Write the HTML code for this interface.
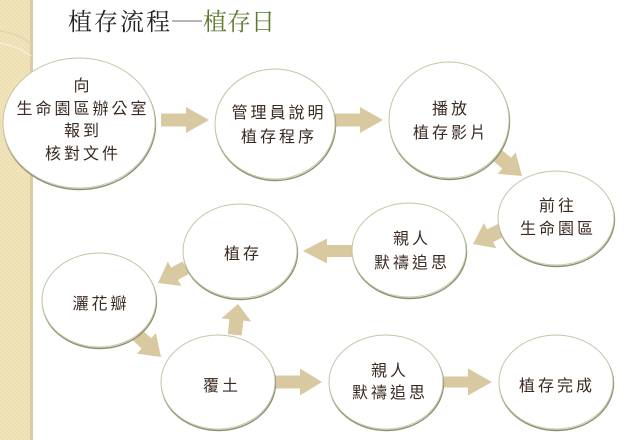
<!DOCTYPE html>
<html><head><meta charset="utf-8"><style>
html,body{margin:0;padding:0;background:#fff;}
svg{display:block;}
</style></head><body>
<svg width="640" height="440" viewBox="0 0 640 440" xmlns="http://www.w3.org/2000/svg">
<defs>
<pattern id="chk" width="4" height="4" patternUnits="userSpaceOnUse">
<rect width="4" height="4" fill="#f1e3bb"/>
<rect width="2" height="2" fill="#eedfb3"/>
<rect x="2" y="2" width="2" height="2" fill="#eedfb3"/>
</pattern>
</defs>
<rect x="0" y="0" width="640" height="440" fill="#ffffff"/>
<rect x="0" y="0" width="31" height="440" fill="url(#chk)"/>
<rect x="30" y="0" width="3" height="440" fill="#d9cda6"/>
<path d="M0,31 Q18,33 31,44" stroke="#e2d5b0" stroke-width="1.5" fill="none"/>
<path d="M0,43 Q18,46 31,56" stroke="#f7efd8" stroke-width="1.2" fill="none"/>

<g font-family="'Noto Serif CJK SC', 'Liberation Serif', serif" font-size="24">
<text x="68" y="30" fill="#222" letter-spacing="2">植存流程</text>
<line x1="172" y1="21" x2="202" y2="21" stroke="#8a8a8a" stroke-width="1.3"/>
<text x="203" y="30" fill="#5e7a2e" letter-spacing="0">植存日</text>
</g>

<g fill="#d9c9a1">
<polygon transform="translate(209,120)" points="-48,-6.5 -23,-6.5 -23,-13 0,0 -23,13 -23,6.5 -48,6.5"/>
<polygon transform="translate(383,120)" points="-48,-6.5 -23,-6.5 -23,-13 0,0 -23,13 -23,6.5 -48,6.5"/>
<polygon transform="translate(522,176) rotate(40)" points="-38,-7 -20,-7 -20,-14 0,0 -20,14 -20,7 -38,7"/>
<polygon transform="translate(473,244) rotate(154)" points="-34,-7 -19,-7 -19,-14 0,0 -19,14 -19,7 -34,7"/>
<polygon transform="translate(303,251)" points="49,-6 24,-6 24,-12.5 0,0 24,12.5 24,6 49,6"/>
<polygon transform="translate(158,283) rotate(151)" points="-32,-7 -19,-7 -19,-14 0,0 -19,14 -19,7 -32,7"/>
<polygon transform="translate(161,357) rotate(43)" points="-32,-7 -20,-7 -20,-14 0,0 -20,14 -20,7 -32,7"/>
<polygon transform="translate(238,304) rotate(-84)" points="-31,-7 -16,-7 -16,-15 0,0 -16,15 -16,7 -31,7"/>
<polygon transform="translate(322,382)" points="-47,-6.5 -22,-6.5 -22,-13.5 0,0 -22,13.5 -22,6.5 -47,6.5"/>
<polygon transform="translate(492,382)" points="-48,-5.5 -24,-5.5 -24,-13.5 0,0 -24,13.5 -24,5.5 -48,5.5"/>
</g>

<g fill="none" stroke="#8f9072" stroke-width="1.4">
<ellipse cx="79.5" cy="124.5" rx="76" ry="65"/>
<ellipse cx="275.5" cy="125.5" rx="60" ry="55"/>
<ellipse cx="449.5" cy="121.5" rx="60" ry="58"/>
<ellipse cx="556.5" cy="219.5" rx="58" ry="47"/>
<ellipse cx="409.5" cy="251.5" rx="57" ry="47"/>
<ellipse cx="240.5" cy="252.5" rx="57" ry="47"/>
<ellipse cx="99.5" cy="301.5" rx="57" ry="47"/>
<ellipse cx="218.5" cy="383.5" rx="57" ry="47"/>
<ellipse cx="386.5" cy="383.5" rx="57" ry="47"/>
<ellipse cx="556.5" cy="383.5" rx="57" ry="47"/>
</g>
<g fill="#ffffff" stroke="#c2c6a6" stroke-width="1">
<ellipse cx="79" cy="123" rx="76" ry="65"/>
<ellipse cx="275" cy="124" rx="60" ry="55"/>
<ellipse cx="449" cy="120" rx="60" ry="58"/>
<ellipse cx="556" cy="218" rx="58" ry="47"/>
<ellipse cx="409" cy="250" rx="57" ry="47"/>
<ellipse cx="240" cy="251" rx="57" ry="47"/>
<ellipse cx="99" cy="300" rx="57" ry="47"/>
<ellipse cx="218" cy="382" rx="57" ry="47"/>
<ellipse cx="386" cy="382" rx="57" ry="47"/>
<ellipse cx="556" cy="382" rx="57" ry="47"/>
</g>

<g font-family="'Liberation Sans', 'Noto Sans CJK TC', sans-serif" font-size="16" fill="#3a2a22" letter-spacing="3" text-anchor="middle">
<text x="83" y="91">向</text>
<text x="83" y="114">生命園區辦公室</text>
<text x="83" y="136">報到</text>
<text x="83" y="159">核對文件</text>

<text x="279" y="118">管理員說明</text>
<text x="279" y="142">植存程序</text>

<text x="451" y="114">播放</text>
<text x="451" y="138">植存影片</text>

<text x="558" y="211">前往</text>
<text x="558" y="234">生命園區</text>

<text x="412" y="244">親人</text>
<text x="412" y="268">默禱追思</text>

<text x="243" y="259">植存</text>

<text x="101" y="309">灑花瓣</text>

<text x="222" y="391">覆土</text>

<text x="390" y="376">親人</text>
<text x="390" y="398">默禱追思</text>

<text x="557" y="391">植存完成</text>
</g>
</svg>
</body></html>
